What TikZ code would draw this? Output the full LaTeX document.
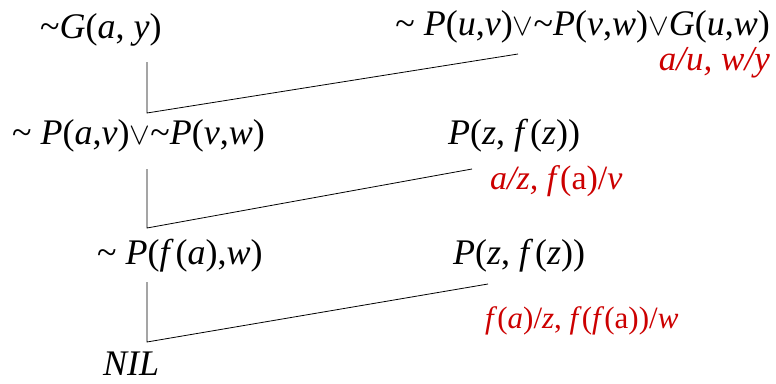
\documentclass[tikz,border=0pt]{standalone}
\usepackage{fontspec}
\setmainfont{Liberation Serif}
\definecolor{redlab}{RGB}{204,0,0}
\newcommand{\I}[1]{\textit{#1}}
\newcommand{\tl}{\textasciitilde}
\newcommand{\orv}{\scalebox{1.25}{$\vee$}}
\begin{document}
\begin{tikzpicture}[x=1pt,y=-1pt,
  txt/.style={inner sep=0pt,font=\fontsize{36}{40}\selectfont},
  lab/.style={inner sep=0pt,text=redlab,font=\fontsize{35}{38}\selectfont},
  labb/.style={inner sep=0pt,text=redlab,font=\fontsize{34}{37}\selectfont},
  lab3/.style={inner sep=0pt,text=redlab,font=\fontsize{31}{34}\selectfont},
  conn/.style={draw=black,line width=0.8pt}]
\useasboundingbox (0,0) rectangle (776,383);
\node[txt,anchor=base west] (g1) at (40,38) {\tl\I{G}(\I{a}, \I{y})};
\node[txt,anchor=base east] (top) at (770,35) {\tl\ \I{P}(\I{u},\I{v})\orv\tl\I{P}(\I{v},\I{w})\orv\I{G}(\I{u},\I{w})};
\node[lab,anchor=base east] (l1) at (770,70) {\I{a/u, w/y}};
\node[txt,anchor=base west] (m1) at (12,144) {\tl\ \I{P}(\I{a},\I{v})\orv\tl\I{P}(\I{v},\I{w})};
\node[txt,anchor=base west] (p1) at (448,144) {\I{P}(\I{z}, \I{f\,}(\I{z}))};
\node[labb,anchor=base west] (l2) at (490,189) {\I{a/z, f}(a)/\I{v}};
\node[txt,anchor=base west] (m2) at (97,264) {\tl\ \I{P}(\I{f\,}(\I{a}),\I{w})};
\node[txt,anchor=base west] (p2) at (453,264) {\I{P}(\I{z}, \I{f\,}(\I{z}))};
\node[lab3,anchor=base west] (l3) at (485,328) {\I{f}(\I{a})/\I{z}, \I{f}(\I{f}(a))/\I{w}};
\node[txt,anchor=base west] (nil) at (103,375) {\I{NIL}};
\coordinate (s1) at (147,62);
\coordinate (c1) at (147,113);
\coordinate (e1) at (518,54);
\coordinate (s2) at (147,169);
\coordinate (c2) at (147,228);
\coordinate (e2) at (472,169);
\coordinate (s3) at (147,282);
\coordinate (c3) at (147,342);
\coordinate (e3) at (488,284);
\draw[conn] (s1) -- (c1) -- (e1);
\draw[conn] (s2) -- (c2) -- (e2);
\draw[conn] (s3) -- (c3) -- (e3);
\end{tikzpicture}
\end{document}
